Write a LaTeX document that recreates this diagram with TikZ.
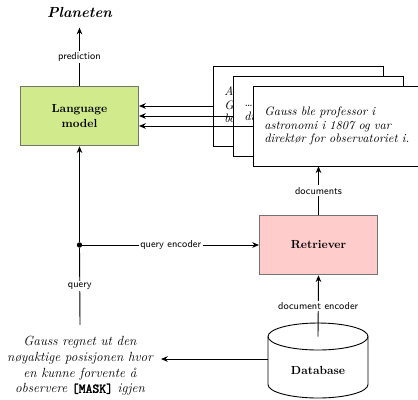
\documentclass[tikz,border=0pt]{standalone}
\usepackage{fontspec}
\newfontfamily\maskfont{Latin Modern Mono}[AutoFakeBold=2.5]
\usetikzlibrary{shapes.geometric,arrows.meta}
\definecolor{lmgreen}{RGB}{208,234,140}
\definecolor{retpink}{RGB}{255,204,204}
\begin{document}
\begin{tikzpicture}[x=0.8889pt,y=-0.8889pt,
  box/.style={draw=black!55, line width=0.8pt, minimum width=105pt, minimum height=53pt, align=center, font=\fontsize{10.4}{12.5}\selectfont\bfseries},
  doc/.style={draw, fill=white, line width=0.7pt, text width=131pt, inner xsep=10pt, minimum height=71pt, align=left, font=\fontsize{10.9}{12.2}\selectfont\itshape},
  lbl/.style={font=\sffamily\fontsize{9}{11}\selectfont, fill=white, inner sep=1.5pt},
  arr/.style={-{Stealth[length=6pt,width=5pt]}, line width=0.8pt},
  ln/.style={line width=0.8pt},
]
\useasboundingbox (0,0) rectangle (418,399);
\node[box, fill=lmgreen] (lm) at (79.5,116) {Language\\model};
\node[font=\fontsize{13}{15}\selectfont\bfseries\itshape, outer ysep=6pt] (planet) at (79.5,12) {Planeten};
\draw[arr] (lm.north) -- node[lbl]{prediction} (planet.south);

\node[doc] (d1) at (298,106) {Asteroiden Ceres ble\\ Gauss beregnet banen\\ basert på få målinger.};
\node[doc] (d2) at (318,116) {\dots og Gauss ble senere\\ direktør ved Göttingen\\ \mbox{}};
\node[doc] (d3) at (338,126) {Gauss ble professor i\\ astronomi i 1807 og var\\ direktør for observatoriet i.};
\draw[arr] (d1.west) -- (d1.west -| lm.east);
\draw[arr] (d2.west) -- (d2.west -| lm.east);
\draw[arr] (d3.west) -- (d3.west -| lm.east);

\node[box, fill=retpink] (ret) at (318.5,245) {Retriever};
\draw[arr] (ret.north) -- node[lbl]{documents} (ret.north |- d3.south);

\node[circle, fill, inner sep=1.7pt] (dot) at (lm.south |- ret.west) {};
\node[font=\fontsize{11.8}{13.9}\selectfont\itshape, align=center, outer sep=4pt] (q) at (80,366) {Gauss regnet ut den\\ nøyaktige posisjonen hvor\\ en kunne forvente å\\ observere {\upshape\maskfont\bfseries [MASK]} igjen};
\draw[ln] ([yshift=3pt]q.north) -- node[lbl]{query} (dot);
\draw[arr] (dot) -- (lm.south);
\draw[arr] (dot) -- node[lbl]{query encoder} (ret.west);

% database cylinder
\draw[line width=0.8pt] (268,336.5) -- (268,384.5) arc[start angle=180, end angle=360, x radius=44.44pt, y radius=12pt] -- (368,336.5);
\draw[line width=0.8pt] (318,336.5) ellipse [x radius=44.44pt, y radius=12pt];
\node[font=\fontsize{10.4}{12.5}\selectfont\bfseries] (db) at (318,370) {Database};
\coordinate (dbtop) at (318,336.5);
\coordinate (dbwest) at (268,359);
\draw[arr] (dbtop) -- node[lbl]{document encoder} (ret.south);
\draw[arr] (dbwest) -- (dbwest -| q.east);
\end{tikzpicture}
\end{document}
